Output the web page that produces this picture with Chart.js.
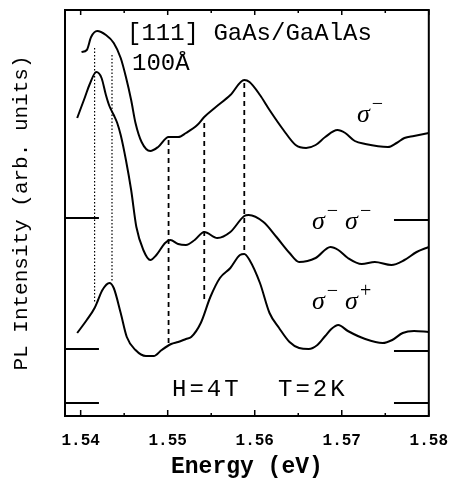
<!DOCTYPE html>
<html>
<head>
<meta charset="utf-8">
<script src="https://cdn.jsdelivr.net/npm/chart.js@4"></script>
<style>
  html, body { margin: 0; padding: 0; background: #fff; }
  #wrap { width: 455px; height: 481px; }
</style>
</head>
<body>
<div id="wrap"><canvas id="plChart" width="455" height="481"></canvas></div>
<script>
// Values. Energy in eV, intensity in arbitrary units (0..406 over the frame)
const eSigma = [1.5401, 1.5407, 1.5412, 1.5419, 1.5429, 1.5438, 1.5446, 1.5452, 1.5458, 1.5463, 1.5470, 1.5480, 1.5489, 1.5501, 1.5512, 1.5521, 1.5534, 1.5542, 1.5554, 1.5572, 1.5588, 1.5594, 1.5606, 1.5617, 1.5633, 1.5647, 1.5659, 1.5670, 1.5681, 1.5695, 1.5704, 1.5715, 1.5727, 1.5753, 1.5763, 1.5772, 1.5783, 1.5800];
const iSigma = [364, 366, 379, 385, 381, 373, 358, 339, 316, 293, 274, 265, 269, 279, 279, 283, 291, 299, 308, 321, 336, 334, 321, 306, 286, 271, 268, 271, 279, 286, 283, 275, 272, 269, 273, 278, 280, 283];

const eMinusMinus = [1.5396, 1.5405, 1.5410, 1.5418, 1.5424, 1.5429, 1.5433, 1.5438, 1.5442, 1.5446, 1.5452, 1.5458, 1.5464, 1.5472, 1.5480, 1.5487, 1.5497, 1.5503, 1.5512, 1.5521, 1.5531, 1.5542, 1.5557, 1.5572, 1.5588, 1.5593, 1.5610, 1.5625, 1.5640, 1.5651, 1.5670, 1.5687, 1.5696, 1.5707, 1.5723, 1.5738, 1.5757, 1.5772, 1.5786, 1.5800];
const iMinusMinus = [298, 319, 331, 344, 338, 321, 310, 301, 293, 281, 256, 226, 189, 166, 156, 161, 173, 176, 172, 171, 176, 184, 178, 184, 200, 201, 194, 179, 163, 154, 158, 169, 166, 158, 152, 154, 151, 156, 164, 169];

const eMinusPlus = [1.5396, 1.5407, 1.5416, 1.5420, 1.5425, 1.5433, 1.5438, 1.5446, 1.5453, 1.5463, 1.5475, 1.5484, 1.5493, 1.5504, 1.5512, 1.5521, 1.5527, 1.5538, 1.5549, 1.5560, 1.5572, 1.5583, 1.5588, 1.5594, 1.5606, 1.5617, 1.5628, 1.5640, 1.5651, 1.5662, 1.5672, 1.5681, 1.5688, 1.5696, 1.5707, 1.5727, 1.5747, 1.5758, 1.5770, 1.5783, 1.5800];
const iMinusPlus = [83, 96, 108, 116, 126, 133, 128, 103, 79, 66, 60, 60, 66, 72, 74, 77, 79, 93, 119, 138, 148, 161, 162, 156, 133, 103, 88, 74, 68, 67, 71, 80, 87, 91, 85, 77, 73, 76, 83, 85, 84];

// short baseline markers at both edges
const baseLeftLevel = [198, 67, 13];
const baseRightLevel = [196, 65, 13];
const baseLeftSpan = [1.5382, 1.5421];
const baseRightSpan = [1.5760, 1.5800];

// vertical guide lines
const guideE = [1.5416, 1.5436, 1.5501, 1.5542, 1.5588];
const guideTop = [368, 361, 276, 293, 333];
const guideBottom = [113, 134, 71, 116, 163];
const guideKind = ['dot', 'dot', 'dash', 'dash', 'dash'];

const xMin = 1.5382, xMax = 1.58;
const xTicks = [1.54, 1.55, 1.56, 1.57, 1.58];
const xMinorTicks = [1.545, 1.555, 1.565, 1.575];

const mono = '"Liberation Mono", monospace';
const serif = '"Liberation Serif", serif';

function pts(xs, ys) { return xs.map((x, i) => ({x, y: ys[i]})); }

const datasets = [];
[[eSigma, iSigma], [eMinusMinus, iMinusMinus], [eMinusPlus, iMinusPlus]].forEach(([xs, ys]) => {
  datasets.push({ data: pts(xs, ys), borderColor: '#000', borderWidth: 2, pointRadius: 0, cubicInterpolationMode: 'monotone' });
});
baseLeftLevel.forEach((lv, i) => {
  datasets.push({ data: baseLeftSpan.map(x => ({x, y: lv})), borderColor: '#000', borderWidth: 2, pointRadius: 0 });
  datasets.push({ data: baseRightSpan.map(x => ({x, y: baseRightLevel[i]})), borderColor: '#000', borderWidth: 2, pointRadius: 0 });
});
guideE.forEach((e, i) => {
  const dot = guideKind[i] === 'dot';
  datasets.push({
    data: [{x: e, y: guideTop[i]}, {x: e, y: guideBottom[i]}],
    borderColor: '#000', borderWidth: dot ? 1.2 : 1.8, borderDash: dot ? [1.5, 2] : [5, 4], pointRadius: 0
  });
});

function sigmaLabel(ctx, x, base, sups) {
  // draws σ^a σ^b ... with superscripts placed up-right of each sigma
  let cx = x;
  sups.forEach(s => {
    ctx.font = 'italic 26px ' + serif;
    ctx.fillText('σ', cx, base);
    cx += ctx.measureText('σ').width + 2;
    ctx.font = '20px ' + serif;
    ctx.fillText(s, cx, base - 12);
    cx += ctx.measureText(s).width + 7;
  });
}

const decor = {
  id: 'decor',
  afterDatasetsDraw(chart) {
    const {ctx, chartArea: a, scales: {x}} = chart;
    ctx.save();
    ctx.strokeStyle = '#000';
    ctx.fillStyle = '#000';
    ctx.lineWidth = 2;
    ctx.strokeRect(a.left, a.top, a.right - a.left, a.bottom - a.top);
    ctx.lineWidth = 1.5;
    ctx.beginPath();
    xTicks.forEach(v => {
      const px = x.getPixelForValue(v);
      ctx.moveTo(px, a.bottom); ctx.lineTo(px, a.bottom - 6);
      ctx.moveTo(px, a.top); ctx.lineTo(px, a.top + 5);
    });
    xMinorTicks.forEach(v => {
      const px = x.getPixelForValue(v);
      ctx.moveTo(px, a.bottom); ctx.lineTo(px, a.bottom - 3);
      ctx.moveTo(px, a.top); ctx.lineTo(px, a.top + 3);
    });
    ctx.stroke();

    ctx.textBaseline = 'alphabetic';
    ctx.textAlign = 'left';
    ctx.font = '24px ' + mono;
    ctx.fillText('[111] GaAs/GaAlAs', 127, 40);
    ctx.fillText('100Å', 132, 70);
    ctx.letterSpacing = '3px';
    ctx.fillText('H=4T', 172, 396);
    ctx.fillText('T=2K', 278, 396);
    ctx.letterSpacing = '0px';

    sigmaLabel(ctx, 357, 122, ['−']);
    sigmaLabel(ctx, 312, 229, ['−', '−']);
    sigmaLabel(ctx, 312, 309, ['−', '+']);
    ctx.restore();
  }
};

new Chart(document.getElementById('plChart'), {
  type: 'line',
  data: { datasets },
  options: {
    responsive: false,
    animation: false,
    layout: { padding: { top: 10, right: 20, left: 0, bottom: 0 } },
    plugins: { legend: { display: false }, tooltip: { enabled: false } },
    scales: {
      x: {
        type: 'linear', min: xMin, max: xMax,
        grid: { display: false }, border: { display: false },
        afterBuildTicks: s => { s.ticks = xTicks.map(v => ({value: v})); },
        afterFit: s => { s.height = 65; },
        ticks: { autoSkip: false, maxRotation: 0, padding: 7, color: '#000',
          font: { family: mono, size: 16, weight: 'bold' }, callback: v => v.toFixed(2) },
        title: { display: true, text: 'Energy (eV)', color: '#000', padding: { top: 0, bottom: 0 },
          font: { family: mono, size: 23, weight: 'bold' } }
      },
      y: {
        type: 'linear', min: 0, max: 406,
        grid: { display: false }, border: { display: false },
        ticks: { display: false },
        afterFit: s => { s.width = 65; },
        title: { display: true, text: 'PL Intensity (arb. units)', color: '#000', padding: { top: 9, bottom: 0 },
          font: { family: mono, size: 21 } }
      }
    }
  },
  plugins: [decor]
});
</script>
</body>
</html>
